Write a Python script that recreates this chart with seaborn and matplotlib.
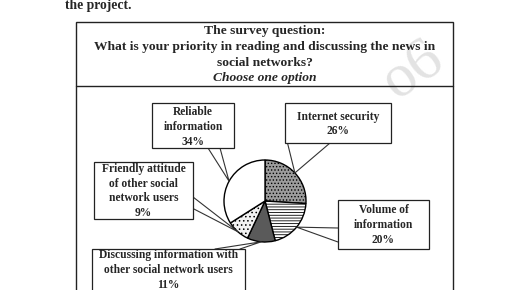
import matplotlib
matplotlib.use('Agg')
import matplotlib.pyplot as plt
import seaborn as sns
import numpy as np
from matplotlib.patches import Rectangle

sns.set_style('white')
plt.rcParams['font.family'] = ['Liberation Serif', 'DejaVu Serif']
plt.rcParams['hatch.linewidth'] = 0.6

#survey answers, clockwise from 12 o'clock
labels = ['Internet security', 'Volume of\ninformation', 'Discussing information with\nother social network users',
          'Friendly attitude\nof other social\nnetwork users', 'Reliable\ninformation']
shares = [26, 20, 11, 9, 34]
faces = ['#9c9c9c', 'white', '#5a5a5a', '#f2f2f2', 'white']
hatches = ['.....', '------', None, '....', None]

header = 'The survey question:\nWhat is your priority in reading and discussing the news in\nsocial networks?'
subheader = 'Choose one option'

W, H = 516, 290
fig = plt.figure(figsize=(W / 100, H / 100), dpi=100)
ax = fig.add_axes([0, 0, 1, 1])

#helper: picture coords are measured from the top
def Y(y):
    return H - y

#pie
cx, cy, r = 265, 201, 41
wedges, _ = ax.pie(shares, startangle=90, counterclock=False, colors=faces,
                   center=(cx, Y(cy)), radius=r,
                   wedgeprops=dict(edgecolor='black', linewidth=1.0))
for w, h in zip(wedges, hatches):
    if h:
        w.set_hatch(h)

ax.set_xlim(0, W)
ax.set_ylim(0, H)
ax.set_aspect('auto')
ax.axis('off')

#outer table box
ax.add_patch(Rectangle((76, Y(300)), 453 - 76, 300 - 22, fill=False, lw=1.0, ec='#222222', zorder=1))
ax.plot([76, 453], [Y(86), Y(86)], color='#222222', lw=1.0)

#watermark
wm = ax.text(413, Y(70), 'o6', fontsize=44, color='#e3e3e3', rotation=35,
             ha='center', va='center', zorder=0)
wm.set_clip_path(Rectangle((76, Y(86)), 377, 64, transform=ax.transData))

ax.text(65, Y(6), 'the project.', fontsize=9.8, fontweight='bold', va='center', ha='left')
ax.text(265, Y(47), header, fontsize=9.7, fontweight='bold', ha='center', va='center', linespacing=1.42)
ax.text(265, Y(78), subheader, fontsize=9.7, fontweight='bold', style='italic', ha='center', va='center')

#label boxes: (x0, y0, x1, y1) in picture coords, text centre, tail base points
boxes = [(285, 103, 391, 143), (338, 200, 429, 249), (92, 249, 245, 300),
         (94, 162, 193, 219), (152, 103, 234, 148)]
text_y = [124, 225, 270, 191, 127]
tails = [((287, 141), (330, 143)), ((338, 228), (338, 242)), ((215, 249), (240, 249)),
         ((193, 197), (192, 208)), ((208, 148), (220, 148))]

for i, (lab, pct) in enumerate(zip(labels, shares)):
    x0, y0, x1, y1 = boxes[i]
    ax.add_patch(Rectangle((x0, Y(y1)), x1 - x0, y1 - y0, fc='white', ec='#222222', lw=0.9, zorder=3))
    ax.text((x0 + x1) / 2, Y(text_y[i]), f'{lab}\n{pct}%', fontsize=8.3, fontweight='bold',
            ha='center', va='center', linespacing=1.3, zorder=4)
    #tail tip sits on the rim, in the middle of each wedge
    w = wedges[i]
    ang = np.deg2rad((w.theta1 + w.theta2) / 2)
    tip = (cx + r * np.cos(ang), Y(cy) + r * np.sin(ang))
    (ax1, ay1), (ax2, ay2) = tails[i]
    ax.plot([ax1, tip[0], ax2], [Y(ay1), tip[1], Y(ay2)], color='#333333', lw=0.8, zorder=2)

fig.savefig('out.png', dpi=100, facecolor='white')
